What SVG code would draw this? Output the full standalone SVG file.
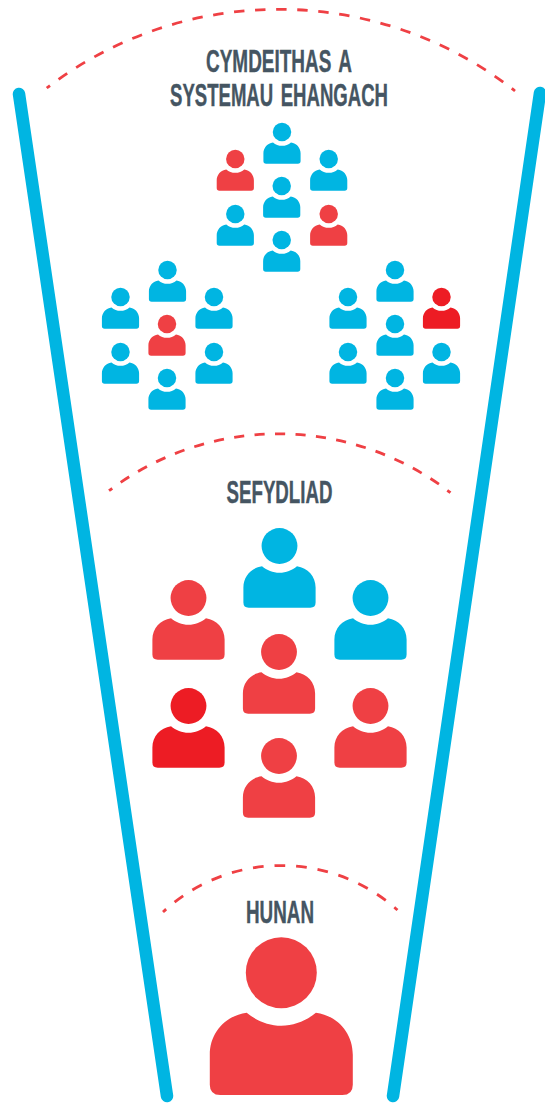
<svg xmlns="http://www.w3.org/2000/svg" width="545" height="1103" viewBox="0 0 545 1103">
<style>
.rail{fill:none;stroke:#00b5e2;stroke-width:12.5;stroke-linecap:round}
.arc{fill:none;stroke:#ef4044;stroke-width:2.8;stroke-dasharray:10 10.2;stroke-dashoffset:6}
.title{font-family:"Liberation Sans",Arial,sans-serif;font-weight:700;font-size:32px;fill:#455562;stroke:#455562;stroke-width:.4;word-spacing:4px}
.b{fill:#00b5e2}.r{fill:#ef4044}.d{fill:#ed1c24}
</style>
<defs>
<g id="person">
<circle cx="0" cy="0" r="35.5"/>
<path d="M-34.6 40C-25 48-13 53 0 53S25 48 34.6 40C56 43 71.5 60 71.5 82V112Q71.5 122.3 61 122.3H-61Q-71.5 122.3-71.5 112V82C-71.5 60-56 43-34.6 40Z"/>
</g>
</defs>
<g id="connectors">
<path class="rail" d="M19 94L167 1096"/>
<path class="rail" d="M540 93L393 1096"/>
<path class="arc" pathLength="482.8" d="M46.7 88A382 382 0 0 1 515 91"/>
<path class="arc" pathLength="361.6" d="M109 490.7A281 281 0 0 1 450.5 492.7"/>
<path class="arc" pathLength="240.4" d="M163 912A174 174 0 0 1 397.5 910"/>
</g>
<g id="label-society">
<text class="title" x="206" y="71.5" textLength="146" lengthAdjust="spacingAndGlyphs">CYMDEITHAS A</text>
<text class="title" x="170" y="105.5" textLength="218" lengthAdjust="spacingAndGlyphs">SYSTEMAU EHANGACH</text>
</g>
<g id="label-org"><text class="title" x="226.5" y="503" textLength="106" lengthAdjust="spacingAndGlyphs">SEFYDLIAD</text></g>
<g id="label-self"><text class="title" x="246" y="923" textLength="68" lengthAdjust="spacingAndGlyphs">HUNAN</text></g>
<g id="cluster-top">
<use href="#person" class="b" transform="translate(282 132) scale(.26)"/>
<use href="#person" class="r" transform="translate(235.3 159) scale(.26)"/>
<use href="#person" class="b" transform="translate(328.7 159) scale(.26)"/>
<use href="#person" class="b" transform="translate(281.7 186) scale(.26)"/>
<use href="#person" class="b" transform="translate(235.3 214) scale(.26)"/>
<use href="#person" class="r" transform="translate(328.7 214) scale(.26)"/>
<use href="#person" class="b" transform="translate(281.7 240) scale(.26)"/>
</g>
<g id="cluster-left">
<use href="#person" class="b" transform="translate(167.5 270) scale(.26)"/>
<use href="#person" class="b" transform="translate(120.5 297) scale(.26)"/>
<use href="#person" class="b" transform="translate(214 297) scale(.26)"/>
<use href="#person" class="r" transform="translate(167 324) scale(.26)"/>
<use href="#person" class="b" transform="translate(120.5 352) scale(.26)"/>
<use href="#person" class="b" transform="translate(214 352) scale(.26)"/>
<use href="#person" class="b" transform="translate(167 378) scale(.26)"/>
</g>
<g id="cluster-right">
<use href="#person" class="b" transform="translate(395 270) scale(.26)"/>
<use href="#person" class="b" transform="translate(348 297) scale(.26)"/>
<use href="#person" class="d" transform="translate(441.5 297) scale(.26)"/>
<use href="#person" class="b" transform="translate(395 324) scale(.26)"/>
<use href="#person" class="b" transform="translate(348 352) scale(.26)"/>
<use href="#person" class="b" transform="translate(441.5 352) scale(.26)"/>
<use href="#person" class="b" transform="translate(395 378) scale(.26)"/>
</g>
<g id="cluster-org">
<use href="#person" class="b" transform="translate(279.5 546) scale(.505)"/>
<use href="#person" class="r" transform="translate(188.5 598) scale(.505)"/>
<use href="#person" class="b" transform="translate(370.5 598) scale(.505)"/>
<use href="#person" class="r" transform="translate(279 652) scale(.505)"/>
<use href="#person" class="d" transform="translate(188.5 706) scale(.505)"/>
<use href="#person" class="r" transform="translate(370.5 706) scale(.505)"/>
<use href="#person" class="r" transform="translate(279 756) scale(.505)"/>
</g>
<g id="self"><use href="#person" class="r" transform="translate(281.3 972.7)"/></g>
</svg>
